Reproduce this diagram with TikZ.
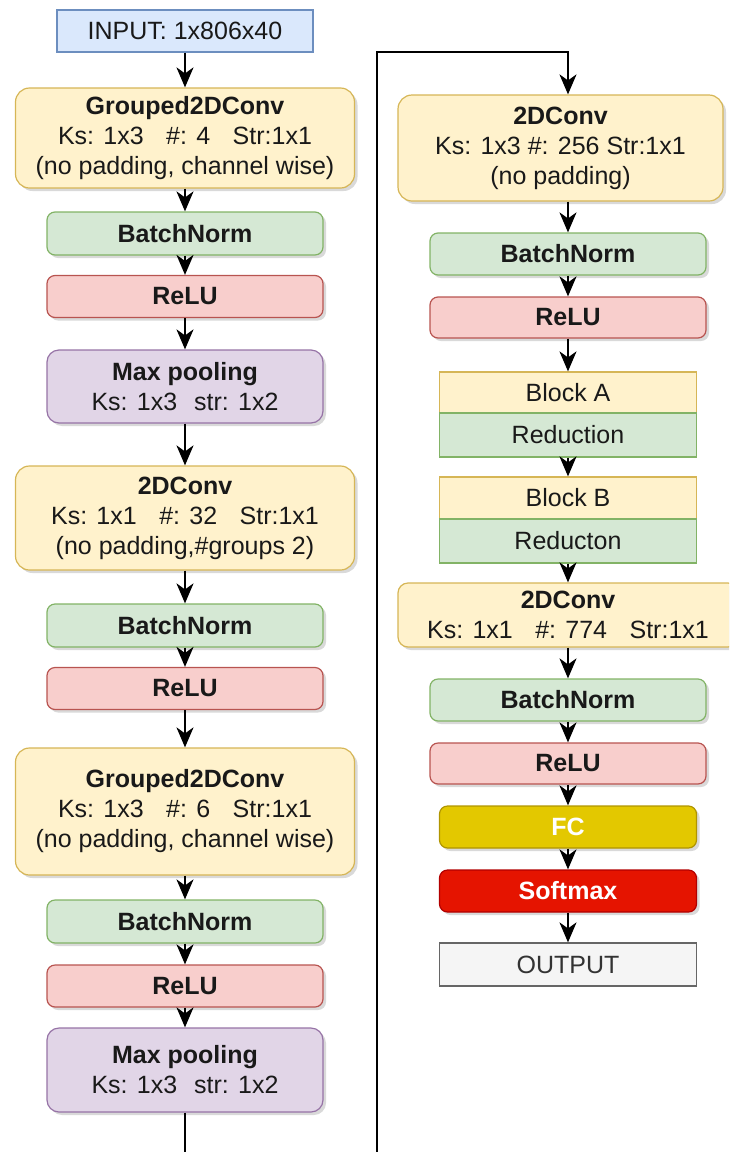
\documentclass[tikz,border=0pt]{standalone}
\usepackage{fontspec}
\setmainfont{Liberation Sans}
\usetikzlibrary{arrows.meta,shadows}
\tikzset{
  box/.style={
    draw,
    line width=1.2pt,
    align=center,
    inner sep=0pt,
    text=black!90,
    font=\fontsize{25}{30}\selectfont
  },
  box-shadow/.style={
    box,
    rounded corners=8pt,
    drop shadow={shadow xshift=3pt, shadow yshift=-3pt, opacity=0.3}
  },
  box-wide/.style={minimum width=339pt},
  box-mid/.style={minimum width=276pt},
  box-narrow/.style={minimum width=257pt},
  box-input/.style={box, box-wide, minimum width=256pt, fill=inblue, draw=inblueline},
  box-conv/.style={box-shadow, box-wide, rounded corners=14pt, fill=convyellow, draw=convyellowline},
  box-norm/.style={box-shadow, box-mid, minimum height=43pt, fill=normgreen, draw=normgreenline},
  box-relu/.style={box-shadow, box-mid, minimum height=42pt, fill=relured, draw=reluredline},
  box-pool/.style={box-shadow, box-mid, rounded corners=12pt, fill=poolpurple, draw=poolpurpleline},
  box-block/.style={box, box-narrow, fill=convyellow, draw=convyellowline},
  box-red/.style={box, box-narrow, minimum height=44pt, fill=normgreen, draw=normgreenline},
  box-fc/.style={box-shadow, box-narrow, minimum height=42pt, fill=fcyellow, draw=fcyellowline, text=white},
  box-soft/.style={box-shadow, box-narrow, minimum height=42pt, fill=softred, draw=softredline, text=white},
  box-output/.style={box, box-narrow, minimum height=43pt, fill=outgray, draw=outgrayline, text=outtext},
  flow/.style={line width=2pt, -{Stealth[length=20pt, width=17pt, inset=6pt]}}
}
\definecolor{inblue}{HTML}{DAE8FC}
\definecolor{inblueline}{HTML}{6C8EBF}
\definecolor{convyellow}{HTML}{FFF2CC}
\definecolor{convyellowline}{HTML}{D6B656}
\definecolor{normgreen}{HTML}{D5E8D4}
\definecolor{normgreenline}{HTML}{82B366}
\definecolor{relured}{HTML}{F8CECC}
\definecolor{reluredline}{HTML}{B85450}
\definecolor{poolpurple}{HTML}{E1D5E7}
\definecolor{poolpurpleline}{HTML}{9673A6}
\definecolor{fcyellow}{HTML}{E3C800}
\definecolor{fcyellowline}{HTML}{B09500}
\definecolor{softred}{HTML}{E51400}
\definecolor{softredline}{HTML}{B20000}
\definecolor{outgray}{HTML}{F5F5F5}
\definecolor{outgrayline}{HTML}{666666}
\definecolor{outtext}{HTML}{333333}
\newcommand{\colgap}{\hspace{0.9em}}

\begin{document}
\begin{tikzpicture}[x=1pt, y=-1pt]
  \useasboundingbox (0,0) rectangle (729,1152);
  \clip (0,0) rectangle (729,1152);

  % Left column
  \node[box-input, minimum height=42pt] (inp) at (185,31) {INPUT: 1x806x40};
  \node[box-conv, minimum height=100pt] (gconvA) at (185,138)
    {\textbf{Grouped2DConv}\\Ks: 1x3\colgap\#: 4\colgap Str:1x1\\(no padding, channel wise)};
  \node[box-norm] (bnA) at (185,233.5) {\textbf{BatchNorm}};
  \node[box-relu] (reluA) at (185,296.5) {\textbf{ReLU}};
  \node[box-pool, minimum height=73pt] (poolA) at (185,386.5)
    {\textbf{Max pooling}\\Ks: 1x3\hspace{0.4em} str: 1x2};
  \node[box-conv, minimum height=104pt] (convA) at (185,518)
    {\textbf{2DConv}\\Ks: 1x1\colgap\#: 32\colgap Str:1x1\\(no padding,\#groups 2)};
  \node[box-norm] (bnB) at (185,625.5) {\textbf{BatchNorm}};
  \node[box-relu] (reluB) at (185,688.5) {\textbf{ReLU}};
  \node[box-conv, minimum height=127pt] (gconvB) at (185,811.5)
    {\textbf{Grouped2DConv}\\Ks: 1x3\colgap\#: 6\colgap Str:1x1\\(no padding, channel wise)};
  \node[box-norm] (bnC) at (185,921.5) {\textbf{BatchNorm}};
  \node[box-relu] (reluC) at (185,986) {\textbf{ReLU}};
  \node[box-pool, minimum height=84pt] (poolB) at (185,1070)
    {\textbf{Max pooling}\\Ks: 1x3\hspace{0.4em} str: 1x2};

  % Right column
  \node[box-conv, minimum width=325pt, minimum height=106pt] (convC) at (560.5,148)
    {\textbf{2DConv}\\Ks: 1x3 \#: 256 Str:1x1\\(no padding)};
  \node[box-norm, minimum height=42pt] (bnD) at (568,254) {\textbf{BatchNorm}};
  \node[box-relu, minimum height=41pt] (reluD) at (568,317.5) {\textbf{ReLU}};
  \node[box-block, minimum height=41pt] (blkA) at (568,392.5) {Block A};
  \node[box-red] (redA) at (568,435) {Reduction};
  \node[box-block, minimum height=42pt] (blkB) at (568,498) {Block B};
  \node[box-red] (redB) at (568,541) {Reducton};
  \node[box-conv, minimum width=340pt, minimum height=64pt, rounded corners=10pt] (convD) at (568,615)
    {\textbf{2DConv}\\Ks: 1x1\colgap\#: 774\colgap Str:1x1};
  \node[box-norm, minimum height=42pt] (bnE) at (568,700) {\textbf{BatchNorm}};
  \node[box-relu, minimum height=41pt] (reluE) at (568,763.5) {\textbf{ReLU}};
  \node[box-fc] (fc) at (568,827) {\textbf{FC}};
  \node[box-soft] (soft) at (568,891) {\textbf{Softmax}};
  \node[box-output] (outp) at (568,964.5) {OUTPUT};

  % Arrows, left column
  \draw[flow] (inp) -- (gconvA);
  \draw[flow] (gconvA) -- (bnA);
  \draw[flow] (bnA) -- (reluA);
  \draw[flow] (reluA) -- (poolA);
  \draw[flow] (poolA) -- (convA);
  \draw[flow] (convA) -- (bnB);
  \draw[flow] (bnB) -- (reluB);
  \draw[flow] (reluB) -- (gconvB);
  \draw[flow] (gconvB) -- (bnC);
  \draw[flow] (bnC) -- (reluC);
  \draw[flow] (reluC) -- (poolB);

  % Link between columns
  \coordinate (loopB) at (377,1200);
  \coordinate (loopT) at (377,52);
  \draw[flow] (poolB.south) |- (loopB) -- (loopT) -| (convC.north -| bnD.north);

  % Arrows, right column
  \draw[flow] (convC.south -| bnD.north) -- (bnD);
  \draw[flow] (bnD) -- (reluD);
  \draw[flow] (reluD) -- (blkA);
  \draw[flow] (redA) -- (blkB);
  \draw[flow] (redB) -- (convD);
  \draw[flow] (convD) -- (bnE);
  \draw[flow] (bnE) -- (reluE);
  \draw[flow] (reluE) -- (fc);
  \draw[flow] (fc) -- (soft);
  \draw[flow] (soft) -- (outp);
\end{tikzpicture}
\end{document}
